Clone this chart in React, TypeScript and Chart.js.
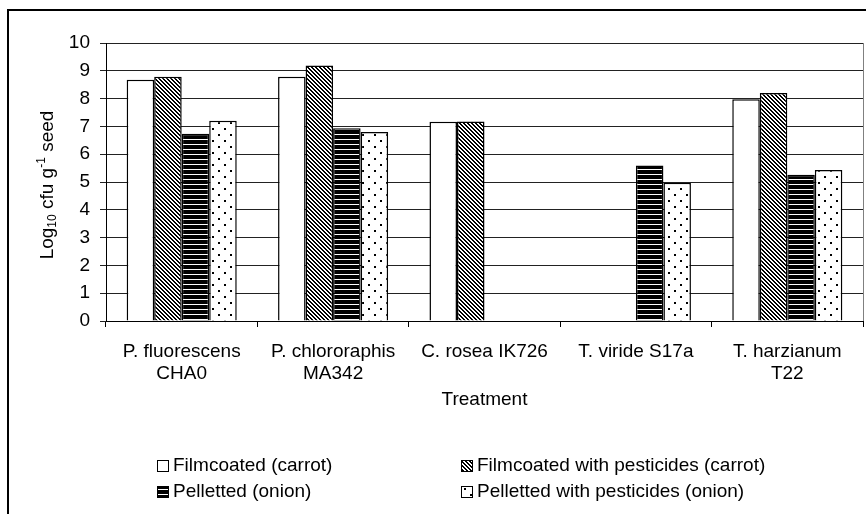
import React, { useEffect, useRef } from "react";
import { Chart, registerables } from "chart.js";

Chart.register(...registerables);

const categories: (string | string[])[] = [
  ["P. fluorescens", "CHA0"],
  ["P. chlororaphis", "MA342"],
  "C. rosea IK726",
  "T. viride S17a",
  ["T. harzianum", "T22"],
];
const seriesNames = [
  "Filmcoated (carrot)",
  "Filmcoated with pesticides (carrot)",
  "Pelletted (onion)",
  "Pelletted with pesticides (onion)",
];
const filmcoated = [8.68, 8.79, 7.17, null, 7.98];
const filmcoatedPesticides = [8.79, 9.19, 7.18, null, 8.2];
const pelletted = [6.74, 6.93, null, 5.59, 5.26];
const pellettedPesticides = [7.2, 6.8, null, 4.97, 5.43];
const yMin = 0;
const yMax = 10;
const yStep = 1;
const xTitle = "Treatment";

const FONT = "'Liberation Sans', Arial, sans-serif";
const FS = 19;

function makePattern(kind: string): CanvasPattern | string {
  if (kind === "white") return "#ffffff";
  const c = document.createElement("canvas");
  let ctx: CanvasRenderingContext2D;
  if (kind === "diag") {
    c.width = 4;
    c.height = 4;
    ctx = c.getContext("2d")!;
    ctx.fillStyle = "#fff";
    ctx.fillRect(0, 0, 4, 4);
    ctx.fillStyle = "#000";
    for (let i = 0; i < 4; i++) {
      ctx.fillRect(i, i, 1, 1);
      ctx.fillRect((i + 1) % 4, i, 1, 1);
    }
  } else if (kind === "hstripe") {
    c.width = 4;
    c.height = 5;
    ctx = c.getContext("2d")!;
    ctx.fillStyle = "#000";
    ctx.fillRect(0, 0, 4, 5);
    ctx.fillStyle = "#fff";
    ctx.fillRect(0, 4, 4, 1);
  } else {
    c.width = 12;
    c.height = 12;
    ctx = c.getContext("2d")!;
    ctx.fillStyle = "#fff";
    ctx.fillRect(0, 0, 12, 12);
    ctx.fillStyle = "#000";
    ctx.fillRect(2, 2, 2, 2);
    ctx.fillRect(8, 8, 2, 2);
  }
  return ctx.createPattern(c, "repeat")!;
}

export default function App() {
  const ref = useRef<HTMLCanvasElement>(null);

  useEffect(() => {
    if (!ref.current) return;
    const fills = [
      makePattern("white"),
      makePattern("diag"),
      makePattern("hstripe"),
      makePattern("dots"),
    ];
    const seriesData = [filmcoated, filmcoatedPesticides, pelletted, pellettedPesticides];

    const decor = {
      id: "decor",
      beforeDraw(chart: any) {
        const ctx = chart.ctx;
        ctx.save();
        ctx.fillStyle = "#fff";
        ctx.fillRect(0, 0, chart.width, chart.height);
        ctx.restore();
      },
      afterDraw(chart: any) {
        const ctx: CanvasRenderingContext2D = chart.ctx;
        const a = chart.chartArea;
        ctx.save();
        // outer frame (left and top)
        ctx.strokeStyle = "#000";
        ctx.lineWidth = 2;
        ctx.beginPath();
        ctx.moveTo(8, chart.height + 10);
        ctx.lineTo(8, 10);
        ctx.lineTo(chart.width + 10, 10);
        ctx.stroke();
        // plot area right border
        ctx.strokeStyle = "#808080";
        ctx.lineWidth = 1;
        ctx.beginPath();
        ctx.moveTo(Math.round(a.right) + 0.5, a.top);
        ctx.lineTo(Math.round(a.right) + 0.5, a.bottom);
        ctx.stroke();

        // y axis title with sub/superscript
        ctx.fillStyle = "#000";
        ctx.textBaseline = "alphabetic";
        ctx.textAlign = "left";
        const parts = [
          { t: "Log", s: FS, dy: 0 },
          { t: "10", s: 12, dy: 3 },
          { t: " cfu g", s: FS, dy: 0 },
          { t: "-1", s: 12, dy: -8 },
          { t: " seed", s: FS, dy: 0 },
        ];
        let total = 0;
        for (const p of parts) {
          ctx.font = `${p.s}px ${FONT}`;
          total += ctx.measureText(p.t).width;
        }
        ctx.translate(46, (a.top + a.bottom) / 2 + 3);
        ctx.rotate(-Math.PI / 2);
        let x = -total / 2;
        for (const p of parts) {
          ctx.font = `${p.s}px ${FONT}`;
          ctx.fillText(p.t, x, 7 + p.dy);
          x += ctx.measureText(p.t).width;
        }
        ctx.setTransform(1, 0, 0, 1, 0, 0);

        // x axis title
        ctx.font = `${FS}px ${FONT}`;
        ctx.textAlign = "center";
        ctx.textBaseline = "middle";
        ctx.fillText(xTitle, (a.left + a.right) / 2, 400);

        // legend
        const cols = [157, 461];
        const rows = [465, 491];
        ctx.textAlign = "left";
        seriesNames.forEach((name, i) => {
          const bx = cols[i % 2];
          const by = rows[Math.floor(i / 2)];
          ctx.fillStyle = fills[i] as any;
          ctx.fillRect(bx, by - 5, 11, 11);
          ctx.strokeStyle = "#000";
          ctx.lineWidth = 1;
          ctx.strokeRect(bx + 0.5, by - 5 + 0.5, 11, 11);
          ctx.fillStyle = "#000";
          ctx.font = `${FS}px ${FONT}`;
          ctx.fillText(name, bx + 16, by + 1);
        });
        ctx.restore();
      },
    };

    const chart = new Chart(ref.current, {
      type: "bar",
      data: {
        labels: categories,
        datasets: seriesNames.map((name, i) => ({
          label: name,
          data: seriesData[i],
          backgroundColor: fills[i] as any,
          borderColor: "#000",
          borderWidth: 1.5,
          categoryPercentage: 0.727,
          barPercentage: 1,
        })),
      },
      options: {
        responsive: false,
        animation: false,
        devicePixelRatio: 1,
        layout: { padding: { left: 0, top: 43, right: 3, bottom: 0 } },
        plugins: { legend: { display: false }, tooltip: { enabled: false } },
        scales: {
          x: {
            grid: { offset: true, drawOnChartArea: false, tickLength: 6, color: "#000" },
            border: { color: "#000", width: 1 },
            ticks: {
              font: { family: FONT, size: FS, lineHeight: 1.15 },
              color: "#000",
              padding: 14,
              maxRotation: 0,
              autoSkip: false,
            },
            afterFit(s: any) {
              s.height = 193;
            },
          },
          y: {
            min: yMin,
            max: yMax,
            ticks: {
              stepSize: yStep,
              font: { family: FONT, size: FS },
              color: "#000",
              padding: 10,
            },
            grid: { color: "#222", tickLength: 6 },
            border: { color: "#000", width: 1 },
            afterFit(s: any) {
              s.width = 106;
            },
          },
        },
      },
      plugins: [decor],
    });
    return () => chart.destroy();
  }, []);

  return (
    <div style={{ position: "fixed", left: 0, top: 0, width: 866, height: 514 }}>
      <canvas ref={ref} width={866} height={514} style={{ display: "block" }} />
    </div>
  );
}
